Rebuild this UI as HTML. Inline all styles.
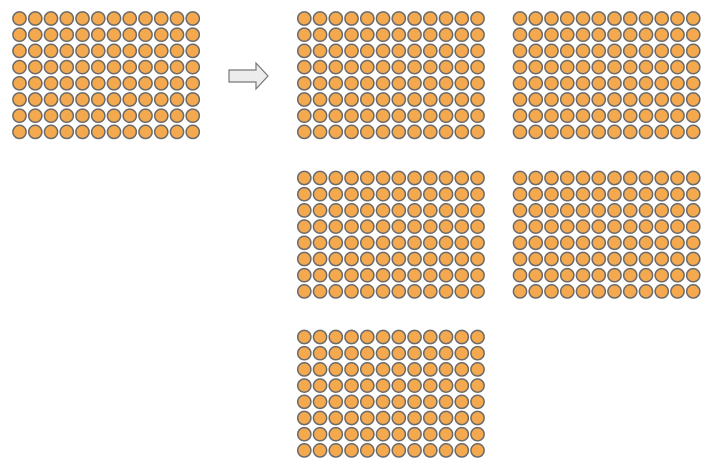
<!DOCTYPE html>
<html><head><meta charset="utf-8"><style>html,body{margin:0;padding:0;background:#fff;width:712px;height:472px;overflow:hidden}</style></head>
<body>
<svg id="c" width="712" height="472">
<polygon points="229,70 256,70 256,63 268,76 256,89 256,82 229,82" fill="#ececec" stroke="#777" stroke-width="1.2"/>
</svg>
<script>
const gridOrigins = [[19.5,18.5],[304.3,18.5],[520,18.5],[304.3,178],[520,178],[304.3,337]];
const gridNames = ['source-grid','copy-1','copy-2','copy-3','copy-4','copy-5'];
const cols = 12, rows = 8, dx = 15.75, dy = 16.2;
const svg = document.getElementById('c');
const NS = 'http://www.w3.org/2000/svg';
gridOrigins.forEach((o,gi)=>{
  const g = document.createElementNS(NS,'g');
  
  
  for(let r=0;r<rows;r++)for(let c=0;c<cols;c++){
    const ci = document.createElementNS(NS,'circle');
    ci.setAttribute('cx', o[0]+c*dx);
    ci.setAttribute('cy', o[1]+r*dy);
    ci.setAttribute('r', 6.6);
    ci.setAttribute('fill', '#f4a94f');
    ci.setAttribute('stroke', '#6a6a6a');
    ci.setAttribute('stroke-width', 1.5);
    
    
    g.appendChild(ci);
  }
  svg.appendChild(g);
});
</script>
</body></html>
